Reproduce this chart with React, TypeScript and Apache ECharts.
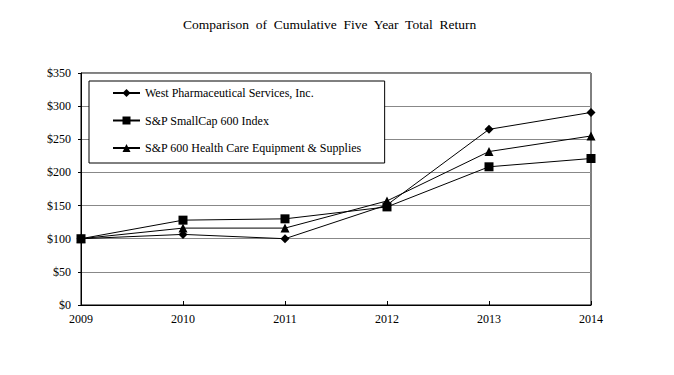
import React, { useEffect, useRef } from "react";
import * as echarts from "echarts";

const years = ["2009", "2010", "2011", "2012", "2013", "2014"];
const westValues = [100, 106.5, 100, 151, 265, 290.5];
const smallCapValues = [100, 128, 130, 148, 208.5, 221];
const healthCareValues = [100, 116, 116, 157, 231.5, 255];
const seriesNames = [
  "West Pharmaceutical Services, Inc.",
  "S&P SmallCap 600 Index",
  "S&P 600 Health Care Equipment & Supplies",
];
const titleText = "Comparison  of  Cumulative  Five  Year  Total  Return";

const FONT = "Liberation Serif";

export default function App() {
  const ref = useRef<HTMLDivElement>(null);
  useEffect(() => {
    if (!ref.current) return;
    const chart = echarts.init(ref.current, null, { renderer: "svg" });
    const mk = (name: string, data: number[], symbol: string, size: number) => ({
      name,
      type: "line",
      data,
      symbol,
      symbolSize: size,
      showSymbol: true,
      lineStyle: { color: "#000", width: 1 },
      itemStyle: { color: "#000" },
      emphasis: { disabled: true },
    });
    chart.setOption({
      animation: false,
      backgroundColor: "#fff",
      textStyle: { fontFamily: FONT },
      title: {
        text: titleText,
        left: 178,
        top: 12,
        textStyle: { fontFamily: FONT, fontSize: 13.5, fontWeight: "normal", color: "#000" },
      },
      legend: {
        orient: "vertical",
        left: 89,
        top: 81,
        padding: [6, 23, 9, 23],
        itemGap: 15.5,
        itemWidth: 27,
        itemHeight: 10,
        borderColor: "#000",
        borderWidth: 1,
        backgroundColor: "#fff",
        textStyle: { fontFamily: FONT, fontSize: 12, color: "#000" },
        data: seriesNames,
      },
      grid: {
        left: 81,
        right: 83,
        top: 73,
        bottom: 70,
        show: true,
        borderColor: "#000",
        borderWidth: 1,
        containLabel: false,
      },
      xAxis: {
        type: "category",
        data: years,
        boundaryGap: false,
        axisLine: { lineStyle: { color: "#000", width: 1 } },
        axisTick: { inside: true, length: 4, alignWithLabel: true, lineStyle: { color: "#000" } },
        axisLabel: { fontFamily: FONT, fontSize: 12, color: "#000", margin: 8 },
        splitLine: { show: false },
      },
      yAxis: {
        type: "value",
        min: 0,
        max: 350,
        interval: 50,
        axisLine: { show: true, lineStyle: { color: "#000", width: 1 } },
        axisTick: { show: true, length: 3, lineStyle: { color: "#000" } },
        axisLabel: {
          fontFamily: FONT,
          fontSize: 12,
          color: "#000",
          margin: 10,
          formatter: (v: number) => "$" + v,
        },
        splitLine: { show: true, lineStyle: { color: "#888", width: 1 } },
      },
      series: [
        mk(seriesNames[0], westValues, "diamond", 9),
        mk(seriesNames[1], smallCapValues, "rect", 9),
        mk(seriesNames[2], healthCareValues, "triangle", 9),
      ],
    });
    return () => chart.dispose();
  }, []);
  return <div ref={ref} style={{ width: 674, height: 375, position: "absolute", left: 0, top: 0 }} />;
}
